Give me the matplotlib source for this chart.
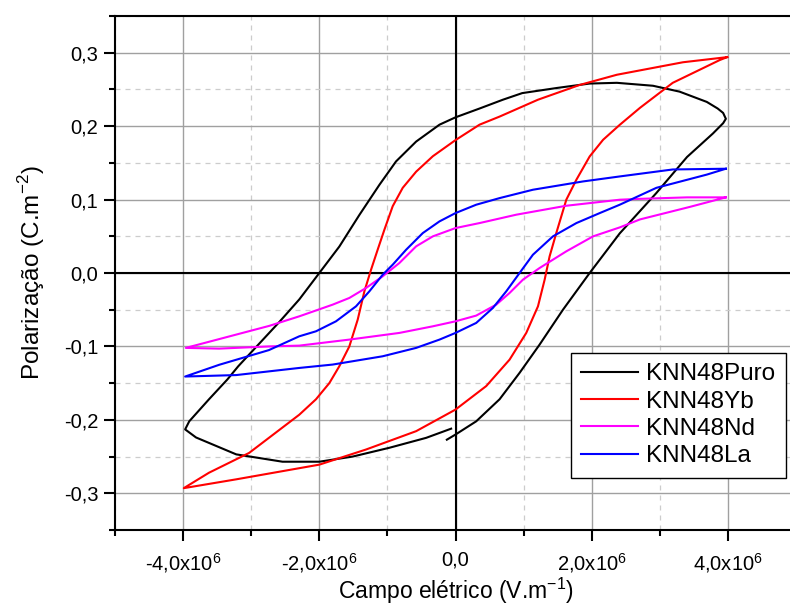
import numpy as np
import matplotlib
matplotlib.use('Agg')
import matplotlib.pyplot as plt

plt.rcParams['font.family'] = ['Liberation Sans', 'DejaVu Sans']
plt.rcParams['mathtext.fontset'] = 'custom'
plt.rcParams['mathtext.rm'] = 'Liberation Sans'

# campo eletrico em 1e6 V/m, polarizacao em C/m2
E_puro = [-0.127, 0.0, 0.304, 0.647, 0.941, 1.235, 1.578, 1.97, 2.412, 2.95, 3.40, 3.78, 3.93, 3.97,
          3.93, 3.85, 3.69, 3.29, 2.90, 2.37, 1.97, 1.49, 0.98, 0.696, 0.353, 0.0, -0.235, -0.578,
          -0.873, -1.118, -1.412, -1.706, -2.0, -2.294, -2.59, -3.19, -3.35, -3.62, -3.91, -3.97,
          -3.81, -3.22, -2.54, -2.0, -1.51, -0.97, -0.431, -0.064]
P_puro = [-0.227, -0.22, -0.202, -0.172, -0.136, -0.0975, -0.05, 0.0, 0.054, 0.109, 0.158, 0.19,
          0.204, 0.21, 0.218, 0.224, 0.233, 0.247, 0.255, 0.259, 0.258, 0.252, 0.245, 0.236, 0.224,
          0.212, 0.202, 0.179, 0.152, 0.12, 0.079, 0.036, 0.0, -0.036, -0.067, -0.127, -0.145,
          -0.172, -0.202, -0.213, -0.224, -0.247, -0.257, -0.257, -0.25, -0.238, -0.2245, -0.212]

E_yb = [3.99, 3.34, 2.37, 1.82, 1.211, 0.647, 0.353, 0.0, -0.333, -0.578, -0.775, -0.922, -1.044,
        -1.142, -1.24, -1.338, -1.436, -1.559, -1.706, -1.853, -2.049, -2.294, -3.03, -3.62, -3.99,
        -3.22, -2.0, -1.314, -0.578, 0.0, 0.451, 0.794, 1.039, 1.211, 1.309, 1.382, 1.48, 1.627,
        1.775, 1.97, 2.167, 2.412, 2.71, 3.19, 3.88, 3.99]
P_yb = [0.294, 0.287, 0.27, 0.256, 0.236, 0.213, 0.202, 0.181, 0.159, 0.138, 0.116, 0.091, 0.059,
        0.032, 0.0045, -0.025, -0.0635, -0.10, -0.127, -0.15, -0.172, -0.193, -0.245, -0.272, -0.293,
        -0.281, -0.261, -0.2404, -0.2154, -0.186, -0.154, -0.118, -0.0816, -0.0454, -0.0091, 0.0227,
        0.0544, 0.0998, 0.127, 0.1587, 0.1814, 0.2018, 0.225, 0.259, 0.29, 0.294]

E_nd = [3.97, 3.4, 2.71, 2.412, 1.627, 0.892, 0.353, 0.0, -0.333, -0.578, -0.824, -1.069, -1.314,
        -1.559, -1.804, -2.294, -2.735, -3.47, -3.96,
        -3.47, -2.74, -2.294, -1.559, -0.824, -0.333, 0.0, 0.304, 0.598, 0.794, 0.99, 1.235, 1.627,
        2.02, 2.412, 2.71, 3.44, 3.97]
P_nd = [0.103, 0.103, 0.101, 0.0998, 0.0916, 0.0794, 0.068, 0.0612, 0.0499, 0.0363, 0.0136, -0.0045,
        -0.0204, -0.034, -0.0431, -0.059, -0.072, -0.09, -0.102,
        -0.103, -0.1, -0.0989, -0.0907, -0.0816, -0.0726, -0.0658, -0.058, -0.0431, -0.0272,
        -0.0091, 0.0068, 0.0295, 0.0499, 0.0621, 0.073, 0.09, 0.103]

E_la = [3.97, 3.19, 2.412, 1.873, 1.137, 0.647, 0.304, 0.0, -0.235, -0.48, -0.725, -0.922, -1.069,
        -1.265, -1.461, -1.755, -2.049, -2.294, -2.74, -3.47, -3.97,
        -3.22, -2.294, -1.804, -1.069, -0.578, -0.235, 0.0, 0.304, 0.549, 0.745, 0.941, 1.137, 1.431,
        1.775, 2.118, 2.412, 2.95, 3.69, 3.97]
P_la = [0.142, 0.141, 0.1315, 0.1247, 0.1134, 0.102, 0.093, 0.0816, 0.0703, 0.0544, 0.0317, 0.0113,
        -0.0023, -0.025, -0.0454, -0.0658, -0.0794, -0.0862, -0.105, -0.125, -0.141,
        -0.139, -0.1293, -0.1247, -0.1134, -0.102, -0.0907, -0.0816, -0.068, -0.0476, -0.025, 0.0,
        0.0249, 0.0499, 0.068, 0.0816, 0.093, 0.116, 0.134, 0.142]

xticks = [-4e6, -2e6, 0, 2e6, 4e6]
xlabels = ['-4,0x10$^{6}$', '-2,0x10$^{6}$', '0,0', '2,0x10$^{6}$', '4,0x10$^{6}$']
yticks = [-0.3, -0.2, -0.1, 0.0, 0.1, 0.2, 0.3]
ylabels = ['-0,3', '-0,2', '-0,1', '0,0', '0,1', '0,2', '0,3']

fig = plt.figure(figsize=(7.9, 6.07), dpi=100)
ax = fig.add_axes([115/790, 1 - 530/607, 681/790, 514/607])

ax.plot(np.array(E_puro)*1e6, P_puro, color='black', lw=1.5, label='KNN48Puro', zorder=4)
ax.plot(np.array(E_yb)*1e6, P_yb, color='#ff0000', lw=1.5, label='KNN48Yb', zorder=4)
ax.plot(np.array(E_nd)*1e6, P_nd, color='#ff00ff', lw=1.5, label='KNN48Nd', zorder=4)
ax.plot(np.array(E_la)*1e6, P_la, color='#0000ff', lw=1.5, label='KNN48La', zorder=4)

ax.set_xlim(-5e6, 5e6)
ax.set_ylim(-0.35, 0.35)
ax.set_xticks(xticks, labels=xlabels)
ax.set_yticks(yticks, labels=ylabels)
ax.set_xticks([-5e6, -3e6, -1e6, 1e6, 3e6, 5e6], minor=True)
ax.set_yticks([-0.35, -0.25, -0.15, -0.05, 0.05, 0.15, 0.25, 0.35], minor=True)

ax.grid(True, which='major', color='#a0a0a0', lw=1.0, zorder=1)
ax.grid(True, which='minor', color='#cccccc', lw=0.9, ls=(0, (4, 4)), zorder=1)
ax.axhline(0, color='black', lw=1.5, zorder=2)
ax.axvline(0, color='black', lw=1.5, zorder=2)
ax.set_axisbelow(True)

ax.spines['right'].set_visible(False)
for s in ['left', 'bottom', 'top']:
    ax.spines[s].set_linewidth(1.5)
ax.tick_params(which='major', direction='out', length=8, width=1.5, labelsize=14.5, pad=4)
ax.tick_params(which='minor', direction='out', length=4, width=1.5)
ax.tick_params(axis='x', pad=7)

ax.set_xlabel('Campo elétrico (V.m$^{-1}$)', fontsize=16.5, labelpad=1)
ax.set_ylabel('Polarização (C.m$^{-2}$)', fontsize=17.5, labelpad=12)

leg = ax.legend(loc='upper left', bbox_to_anchor=(571/790, 1 - 353/607), bbox_transform=fig.transFigure,
                fontsize=17.5, frameon=True, fancybox=False, edgecolor='black', framealpha=1,
                handlelength=2.35, handletextpad=0.33, labelspacing=0.22, borderpad=0.42,
                borderaxespad=0)
leg.get_frame().set_linewidth(1.0)

fig.savefig('out.png', dpi=100)
